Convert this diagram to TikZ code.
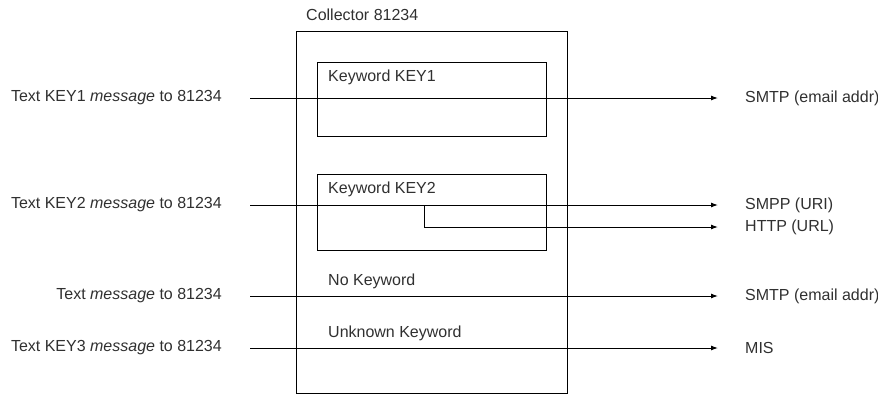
\documentclass[tikz,border=0pt]{standalone}
\usepackage{fontspec}
\setmainfont{Liberation Sans}
\usetikzlibrary{arrows.meta}
\definecolor{MyText}{HTML}{303030}

\begin{document}
\begin{tikzpicture}[x=1pt, y=-1pt, every node/.style={font=\fontsize{16}{19}\selectfont, inner sep=0pt, text=MyText},
	box/.style={draw, line width=1pt, anchor=north west},
	flow/.style={line width=1pt, -{Latex[length=7pt,width=5pt]}, shorten >=27pt}]
	\useasboundingbox (0,0) rectangle (878,394);

	\node[box, minimum width=271pt, minimum height=362pt] (collector) at (296,31) {};
	\node[anchor=west] (colllabel) at (306,15) {Collector 81234};

	\node[box, minimum width=229pt, minimum height=74pt] (key1box) at (317,62) {};
	\node[anchor=west] (key1label) at (328,77) {Keyword KEY1};
	\node[box, minimum width=229pt, minimum height=76pt] (key2box) at (317,174) {};
	\node[anchor=west] (key2label) at (328,189) {Keyword KEY2};
	\node[anchor=west] (nokey) at (328,281) {No Keyword};
	\node[anchor=west] (unknown) at (328,333) {Unknown Keyword};

	% messages in, destinations out
	\foreach \n/\y/\txt/\dst in {1/98/Text KEY1 \textit{message} to 81234/SMTP (email addr),
		2/205/Text KEY2 \textit{message} to 81234/SMPP (URI),
		4/296/Text \textit{message} to 81234/SMTP (email addr),
		5/348/Text KEY3 \textit{message} to 81234/MIS}{
		\node[anchor=east] (msg\n) at (222,\y) {\txt};
		\node[anchor=west] (dest\n) at (745,\y) {\dst};
		\draw[flow, shorten <=28pt] (msg\n) -- (dest\n);
	}
	\node[anchor=west] (dest3) at (745,227) {HTTP (URL)};
	\coordinate (split) at (424,205);
	\draw[flow] (split) |- (dest3);
\end{tikzpicture}
\end{document}
